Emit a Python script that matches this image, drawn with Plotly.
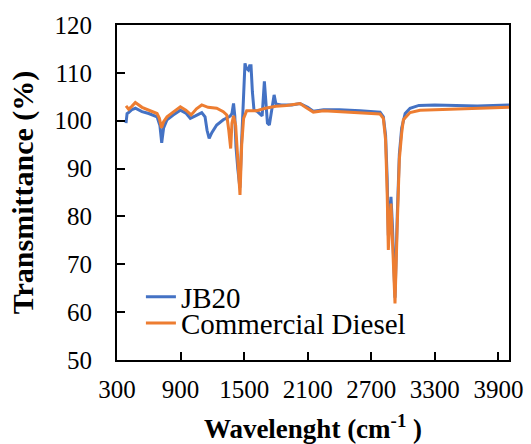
import plotly.graph_objects as go

# JB20 (blue) spectrum readings
jb20_x = [385, 395, 410, 440, 473, 536, 600, 678, 705, 722, 740, 772, 830, 898, 950, 992,
          1040, 1100, 1131, 1150, 1170, 1195, 1241, 1303, 1340, 1370, 1385, 1400, 1412, 1423,
          1440, 1460, 1475, 1490, 1500, 1508, 1520, 1540, 1552, 1565, 1578, 1593, 1620, 1650,
          1670, 1691, 1705, 1720, 1738, 1760, 1783, 1800, 1850, 1950, 2027, 2100, 2153, 2250,
          2400, 2594, 2700, 2783, 2814, 2835, 2850, 2861, 2873, 2886, 2900, 2924, 2945, 2965,
          2987, 3020, 3066, 3150, 3300, 3500, 3700, 4000]
jb20_y = [99.5, 101.5, 101.7, 102.3, 102.6, 101.9, 101.5, 100.8, 99.0, 95.4, 98.5, 100.2,
          101.2, 102.2, 101.6, 100.5, 101.0, 101.7, 100.8, 98.0, 96.3, 97.5, 99.1, 100.2, 100.6,
          101.0, 101.5, 103.6, 101.0, 94.6, 90.0, 86.0, 95.0, 102.2, 108.0, 112.0, 111.0, 110.6,
          111.5, 111.5, 106.0, 102.2, 102.0, 101.5, 101.0, 108.2, 104.0, 99.5, 99.1, 102.0,
          105.4, 103.5, 103.3, 103.3, 103.6, 102.8, 102.0, 102.3, 102.3, 102.1, 101.9, 101.8,
          100.8, 97.0, 88.0, 76.0, 80.0, 84.1, 78.0, 63.0, 80.0, 93.0, 98.5, 101.5, 102.6,
          103.2, 103.3, 103.2, 103.1, 103.3]

# Commercial Diesel (orange) spectrum readings
diesel_x = [385, 410, 440, 473, 536, 600, 678, 700, 720, 740, 772, 830, 898, 950, 1000, 1050,
            1100, 1160, 1241, 1303, 1336, 1355, 1373, 1385, 1400, 1420, 1440, 1461, 1477, 1495,
            1524, 1619, 1700, 1800, 1900, 2000, 2028, 2080, 2153, 2250, 2400, 2594, 2700, 2783,
            2814, 2835, 2850, 2861, 2873, 2886, 2900, 2924, 2945, 2965, 2987, 3003, 3066, 3160,
            3444, 3700, 4000]
diesel_y = [103.1, 102.4, 103.0, 103.8, 102.8, 102.2, 101.5, 100.5, 98.5, 99.8, 100.8, 101.8,
            102.9, 102.2, 101.2, 102.5, 103.3, 102.8, 102.6, 101.9, 101.2, 98.0, 94.2, 99.5,
            101.0, 99.0, 92.0, 84.5, 95.0, 100.5, 102.1, 102.1, 102.6, 103.0, 103.2, 103.4,
            103.6, 102.8, 101.8, 102.1, 101.9, 101.6, 101.4, 101.4, 100.5, 96.0, 85.0, 73.0,
            78.0, 82.7, 75.0, 61.8, 78.0, 92.0, 97.4, 100.2, 101.7, 102.2, 102.4, 102.6, 102.8]

x_ticks = [300, 900, 1500, 2100, 2700, 3300, 3900]
y_ticks = [50, 60, 70, 80, 90, 100, 110, 120]

FONT = "Liberation Serif, Times New Roman, serif"

fig = go.Figure()
fig.add_trace(go.Scatter(x=jb20_x, y=jb20_y, mode="lines", name="JB20",
                         line=dict(color="#4472C4", width=3), legend="legend"))
fig.add_trace(go.Scatter(x=diesel_x, y=diesel_y, mode="lines", name="Commercial Diesel",
                         line=dict(color="#ED7D31", width=3), legend="legend2"))

axis_common = dict(showgrid=False, zeroline=False, showline=True, linecolor="black",
                   linewidth=2, mirror=True, ticks="inside", ticklen=8, tickwidth=2,
                   tickcolor="black", automargin=False,
                   tickfont=dict(family=FONT, size=25, color="black"))

fig.update_xaxes(range=[300, 4000], tickvals=x_ticks, ticklabelstandoff=6,
                 title=dict(text="<b>Wavelenght (cm<sup>-1</sup> )</b>",
                            font=dict(family=FONT, size=27, color="black"), standoff=23),
                 **axis_common)
fig.update_yaxes(range=[50, 120], tickvals=y_ticks, ticklabelstandoff=18,
                 title=dict(text="<b>Transmittance (%)</b>",
                            font=dict(family=FONT, size=30, color="black"), standoff=12),
                 **axis_common)

leg_common = dict(xanchor="left", yanchor="middle", bgcolor="rgba(0,0,0,0)",
                  font=dict(family=FONT, size=29, color="black"), itemwidth=30)

fig.update_layout(
    width=531, height=444,
    margin=dict(l=117, r=22, t=25, b=84),
    paper_bgcolor="white", plot_bgcolor="white",
    legend=dict(x=0.061, y=0.188, **leg_common),
    legend2=dict(x=0.061, y=0.110, **leg_common),
    showlegend=True,
)

fig.write_html("out.html", config={"displayModeBar": False},
               post_script="document.body.style.margin='0px';")
